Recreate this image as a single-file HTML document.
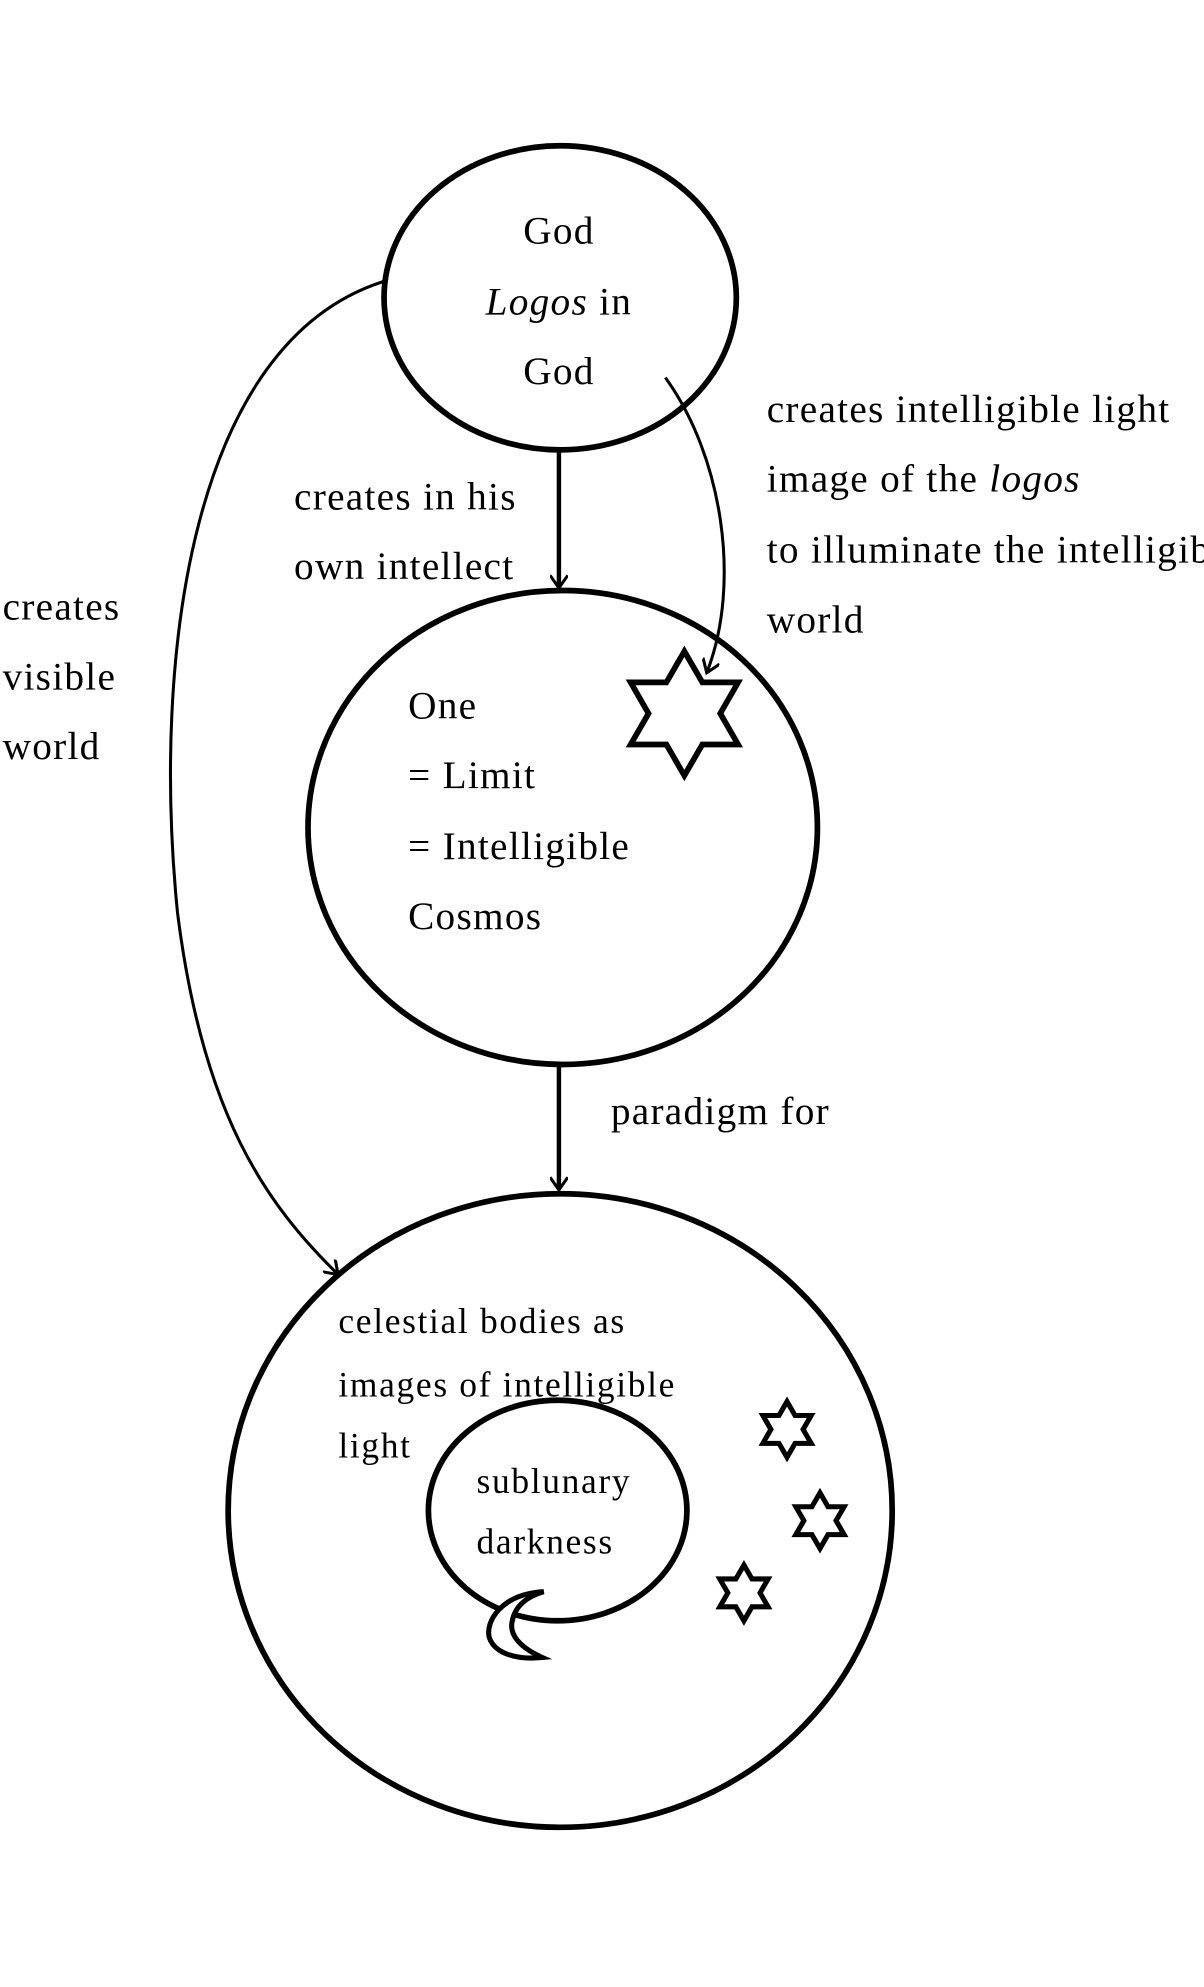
<!DOCTYPE html>
<html><head><meta charset="utf-8"><style>
html,body{margin:0;padding:0;background:#fff}
svg{display:block}
text{font-family:"Liberation Serif",serif;fill:#000}
</style></head><body>
<svg width="1204" height="1987" viewBox="0 0 950 1568" xmlns="http://www.w3.org/2000/svg">
<defs>
<marker id="a" markerWidth="14" markerHeight="14" refX="10" refY="7" orient="auto" markerUnits="userSpaceOnUse">
<path d="M1,0 L11,7 L1,14" fill="none" stroke="#000" stroke-width="2.4"/>
</marker>
</defs>
<g fill="none" stroke="#000" stroke-width="4.5">
<ellipse cx="442" cy="235" rx="139" ry="120"/>
<ellipse cx="444" cy="653" rx="201" ry="187"/>
<ellipse cx="442" cy="1192" rx="262" ry="250"/>
<ellipse cx="440" cy="1192" rx="102" ry="87"/>
</g>
<g fill="none" stroke="#000" stroke-width="3.5">
<line x1="441" y1="357" x2="441" y2="463" marker-end="url(#a)"/>
<line x1="441" y1="842" x2="441" y2="938" marker-end="url(#a)"/>
</g>
<g fill="none" stroke="#000" stroke-width="2.4">
<path d="M303,222 C150,270 120,520 140,720 C160,880 210,950 266,1005" marker-end="url(#a)"/>
<path d="M525,298 C570,360 585,460 558,530" marker-end="url(#a)"/>
</g>
<polygon points="540,514 554.2,538.5 582.4,538.5 568.3,563 582.4,587.5 554.2,587.5 540,612 525.8,587.5 497.6,587.5 511.7,563 497.6,538.5 525.8,538.5" fill="#fff" stroke="#000" stroke-width="4.5" stroke-linejoin="miter"/>
<g fill="#fff" stroke="#000" stroke-width="4" stroke-linejoin="miter">
<polygon transform="translate(621,1128)" points="0,-22 6.35,-11 19.05,-11 12.7,0 19.05,11 6.35,11 0,22 -6.35,11 -19.05,11 -12.7,0 -19.05,-11 -6.35,-11"/>
<polygon transform="translate(647,1200)" points="0,-22 6.35,-11 19.05,-11 12.7,0 19.05,11 6.35,11 0,22 -6.35,11 -19.05,11 -12.7,0 -19.05,-11 -6.35,-11"/>
<polygon transform="translate(587,1257)" points="0,-22 6.35,-11 19.05,-11 12.7,0 19.05,11 6.35,11 0,22 -6.35,11 -19.05,11 -12.7,0 -19.05,-11 -6.35,-11"/>
</g>
<path d="M429,1256 C395,1258 383,1280 386,1292 C390,1305 408,1310 428,1308 C410,1300 402,1290 404,1280 C406,1268 415,1260 429,1256 Z" fill="#fff" stroke="#000" stroke-width="4"/>
<g font-size="31" letter-spacing="1">
<text x="441" y="192" text-anchor="middle">God</text>
<text x="441" y="248" text-anchor="middle"><tspan font-style="italic">Logos</tspan> in</text>
<text x="441" y="303" text-anchor="middle">God</text>
<text x="232" y="402">creates in his</text>
<text x="232" y="457">own intellect</text>
<text x="2" y="489">creates</text>
<text x="2" y="544">visible</text>
<text x="2" y="599">world</text>
<text x="605" y="333">creates intelligible light</text>
<text x="605" y="388">image of the <tspan font-style="italic">logos</tspan></text>
<text x="605" y="444">to illuminate the intelligible</text>
<text x="605" y="499">world</text>
<text x="322" y="567">One</text>
<text x="322" y="622">= Limit</text>
<text x="322" y="678">= Intelligible</text>
<text x="322" y="733">Cosmos</text>
<text x="482" y="887">paradigm for</text>
</g>
<g font-size="28" letter-spacing="1.3">
<text x="267" y="1052">celestial bodies as</text>
<text x="267" y="1102">images of intelligible</text>
<text x="267" y="1150">light</text>
<text x="376" y="1178">sublunary</text>
<text x="376" y="1226">darkness</text>
</g>
</svg>
</body></html>
